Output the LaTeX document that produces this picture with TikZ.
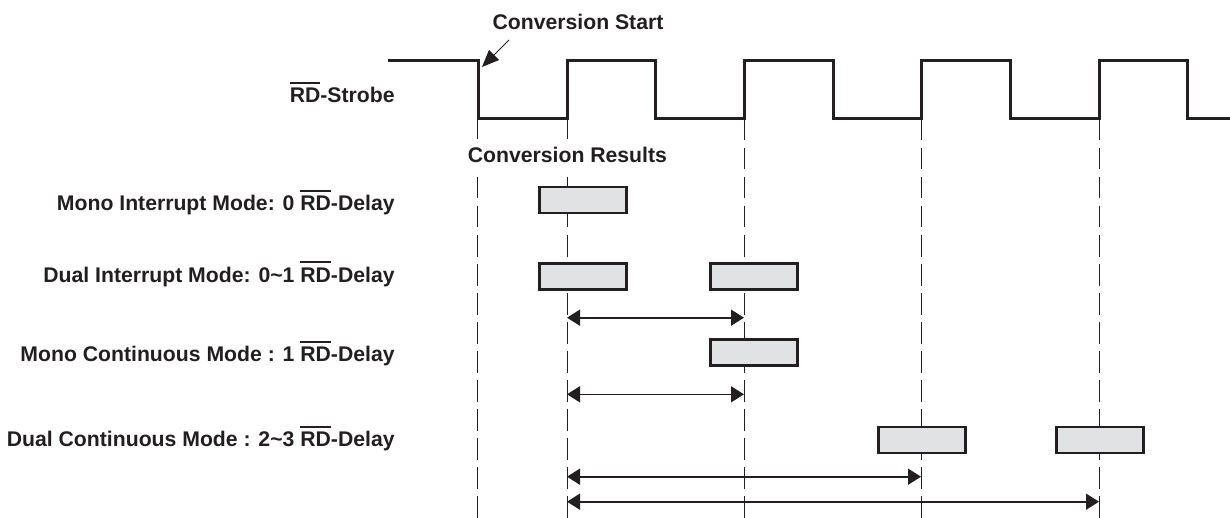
\documentclass[tikz,border=0pt]{standalone}
\usepackage{fontspec}
\setmainfont{Liberation Sans}
\usetikzlibrary{arrows.meta,positioning}
\definecolor{ink}{HTML}{231F20}
\definecolor{boxgray}{HTML}{E1E2E4}
\newcommand{\RDbar}{\vbox{\hrule height 1pt\kern 2pt\hbox{RD}}}
\tikzset{>={Triangle[length=6.5pt,width=8pt]},
	wave/.style={line width=1.5pt,draw=ink,line join=miter},
	guide/.style={draw=ink,line width=0.5pt,dash pattern=on 10.75pt off 3.75pt},
	result/.style={draw=ink,fill=boxgray,line width=1.3pt,minimum width=43.5pt,minimum height=13pt,inner sep=0pt},
	lbl/.style={inner sep=0pt,font=\bfseries\fontsize{10.6}{12}\selectfont,text=ink},
	mode/.style={lbl,anchor=base east},
	delay/.style={<->,line width=0.8pt,draw=ink}}

\begin{document}
\begin{tikzpicture}[x=0.5pt,y=-0.5pt]
				\useasboundingbox (0,0) rectangle (1230,518);
				\foreach \x [count=\i] in {477,567,744,921,1099}
				{\coordinate (g\i) at (\x,119);
					\draw[guide] (g\i) -- (\x,518);}
				\draw[wave] (388,61) -| (478,119) -| (567,61) -| (655,119) -| (744,61) -| (833,119)
					-| (921,61) -| (1010,119) -| (1099,61) -| (1187,119) -- (1230,119);
				%labels
				\node[lbl,anchor=base] (start) at (578,29.3) {Conversion Start};
				\coordinate (tail) at (509,40);
				\coordinate (edge) at (482,67);
				\draw[-{Triangle[length=8.5pt,width=7pt]},line width=0.5pt,draw=ink] (tail) -- (edge);
				\node[lbl,anchor=base,fill=white,inner sep=4pt] (results) at (567.4,162.7) {Conversion Results};
				\node[mode] (strobe) at (395,102.7) {\RDbar-Strobe};
				\node[mode] (mi) at (395,210.7) {Mono Interrupt Mode: 0 \RDbar-Delay};
				\node[mode] (di) at (395,282) {Dual Interrupt Mode: 0\textasciitilde1 \RDbar-Delay};
				\node[mode] (mc) at (395,361.7) {Mono Continuous Mode : 1 \RDbar-Delay};
				\node[mode] (dc) at (395,446.7) {Dual Continuous Mode : 2\textasciitilde3 \RDbar-Delay};
				%result boxes
				\node[result] (mi1) at (583,200) {};
				\node[result] (di1) at (583,276.5) {};
				\node[result] (di2) at (754,276.5) {};
				\node[result] (mc1) at (754,352.5) {};
				\node[result] (dc1) at (922,440) {};
				\node[result] (dc2) at (1100,440) {};
				%delays
				\draw[delay] (g2 |- 0,317.7) -- (g3 |- 0,317.7);
				\draw[delay] (g2 |- 0,394.3) -- (g3 |- 0,394.3);
				\draw[delay] (g2 |- 0,476.7) -- (g4 |- 0,476.7);
				\draw[delay] (g2 |- 0,501.7) -- (g5 |- 0,501.7);
				\end{tikzpicture}
\end{document}
